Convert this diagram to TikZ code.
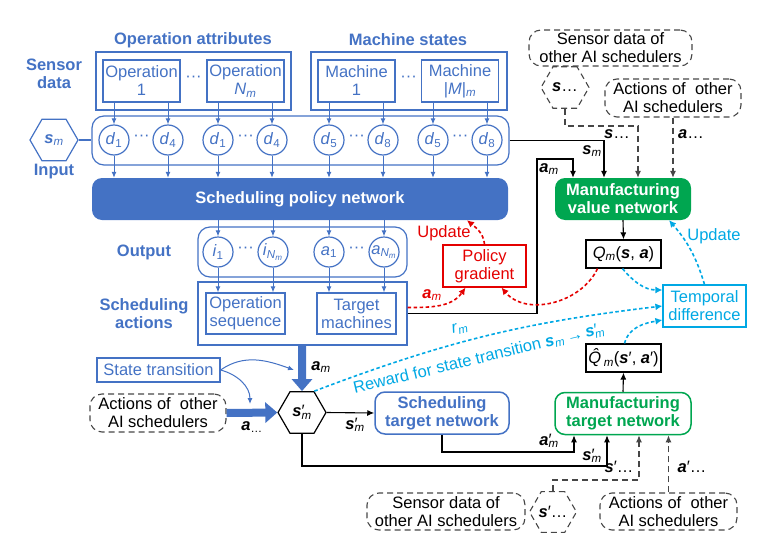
\documentclass[tikz,border=0pt]{standalone}
\usepackage{fontspec}
\setmainfont{Liberation Sans}
\usetikzlibrary{shapes.geometric}
\usetikzlibrary{arrows.meta}
\usetikzlibrary{math}

\definecolor{schedblue}{RGB}{68,114,196}
\definecolor{tdcyan}{RGB}{0,168,228}
\definecolor{pgred}{RGB}{228,0,0}
\definecolor{mfgreen}{RGB}{0,166,80}
\definecolor{dashgray}{RGB}{70,70,70}

\newcommand{\labfont}{\fontsize{16.5}{18}\selectfont}
\newcommand{\bvar}[2]{\textbf{\textit{#1}}\textsubscript{\textit{#2}}}
\newcommand{\bvarp}[2]{\textbf{\textit{#1}}\rlap{′}\textsubscript{\textit{#2}}}
\newcommand{\ivar}[2]{\textit{#1}\textsubscript{#2}}
\newcommand{\Nm}{\textit{N}\textsubscript{\textit{m}}}

\tikzset{
    heading/.style={font=\labfont\bfseries, text=schedblue, align=center, inner sep=0pt},
    framebox/.style={draw=schedblue, line width=1.2pt, inner sep=0pt},
    inbox/.style={framebox, text=schedblue, align=center, font=\labfont,
        minimum width=77pt, minimum height=42pt},
    feature/.style={circle, draw=schedblue, line width=1.2pt, text=schedblue,
        minimum size=30pt, inner sep=0pt, font=\labfont},
    dotsnode/.style={text=schedblue, font=\labfont, inner sep=0pt},
    feed/.style={draw=schedblue, line width=1pt, -{Latex[length=6pt,width=5pt]}},
    othersbox/.style={draw=dashgray, dash pattern=on 6pt off 4pt, line width=1.1pt,
        rounded corners=12pt, align=center, font=\labfont, inner sep=0pt},
    hexa/.style={regular polygon, regular polygon sides=6, minimum size=48pt,
        inner sep=0pt, font=\labfont},
    wire/.style={draw=black, line width=1.1pt, -{Latex[length=7pt,width=6pt]}},
    otherwire/.style={draw=dashgray, dash pattern=on 6pt off 4pt, line width=1.1pt,
        -{Latex[length=7pt,width=6pt]}},
    varlabel/.style={font=\labfont, inner sep=0pt},
    valbox/.style={draw=black, line width=1.2pt, font=\labfont,
        minimum width=75pt, minimum height=28pt, inner sep=0pt},
    netbox/.style={rounded corners=10pt, align=center, font=\labfont\bfseries,
        minimum height=42pt, inner sep=0pt},
    reddash/.style={draw=pgred, line width=1.6pt, dash pattern=on 3.5pt off 2.5pt,
        -{Latex[length=7pt,width=7pt]}},
    cyandash/.style={draw=tdcyan, line width=1.6pt, dash pattern=on 3.5pt off 2.5pt,
        -{Latex[length=7pt,width=7pt]}},
    bigflow/.style={draw=schedblue, line width=8pt, -{Triangle[length=12pt,width=20pt]}},
}

\begin{document}
\begin{tikzpicture}[x=1pt, y=-1pt]

% Picture size
\tikzmath{
    \FeatY = 140;
    \OutY = 252;
}

\useasboundingbox (0,0) rectangle (771,546);

% Side headings
\node [heading] (hattr) at (193,40) {Operation attributes};
\node [heading] (hmach) at (408,40) {Machine states};
\node [heading] (hsensor) at (54,74) {Sensor\\data};
\node [heading] (hinput) at (54,172) {Input};
\node [heading] (houtput) at (144,\OutY) {Output};
\node [heading] (hactions) at (144,314) {Scheduling\\actions};

% Sensor data boxes
\node [framebox, minimum width=195pt, minimum height=58pt] (attrframe) at (193.5,81) {};
\node [framebox, minimum width=196pt, minimum height=58pt] (machframe) at (409,81) {};
\node [inbox] (opone) at (141.5,81) {Operation\\1};
\node [inbox] (opn) at (245.5,81) {Operation\\\Nm};
\node [inbox] (macone) at (356.5,81) {Machine\\1};
\node [inbox] (macm) at (460,81) {Machine\\|\textit{M}|\textsubscript{\textit{m}}};
\node [dotsnode] (dotattr) at (193.5,79) {···};
\node [dotsnode] (dotmach) at (408.5,79) {···};

% Input layer
\node [framebox, rounded corners=12pt, minimum width=417pt, minimum height=49pt] (input) at (300.5,140.5) {};
\node [hexa, draw=schedblue, line width=1.2pt, text=schedblue] (sm) at (54,\FeatY) {\bvar{s}{m}};
\draw [schedblue, line width=1.2pt] (sm.east) -- (input.west |- sm.east);

\foreach \name/\x/\idx/\src in {fa/114/1/opone, fb/168/4/opone, fc/218/1/opn, fd/272/4/opn,
                                fe/329/5/macone, ff/383/8/macone, fg/433/5/macm, fh/487/8/macm} {
    \node [feature] (\name) at (\x,\FeatY) {\ivar{d}{\idx}};
    \draw [feed] (\name |- \src.south) -- (\name.north);
}
\foreach \name/\x in {dfa/141.5, dfb/245.5, dfc/356.5, dfd/460} {
    \node [dotsnode] (\name) at (\x,\FeatY-2) {···};
}

% Policy network
\node [netbox, fill=schedblue, text=white, minimum width=416pt] (policy) at (300,199) {Scheduling policy network};
\foreach \name in {fa,fb,fc,fd,fe,ff,fg,fh} {
    \draw [feed] (\name.south) -- (\name |- policy.north);
}

% Output layer and actions
\node [framebox, rounded corners=12pt, minimum width=209pt, minimum height=50pt] (output) at (302.5,\OutY) {};
\node [framebox, minimum width=209pt, minimum height=63pt] (actions) at (302.5,313.5) {};
\node [inbox, minimum width=79pt, minimum height=41pt] (opseq) at (245.5,313.5) {Operation\\sequence};
\node [inbox, minimum width=79pt, minimum height=41pt] (tarmac) at (356.5,313.5) {Target\\machines};

\foreach \name/\x/\sym/\idx/\dst in {oa/218/i/1/opseq, ob/273/i/{\Nm}/opseq,
                                     oc/329/a/1/tarmac, od/384/a/{\Nm}/tarmac} {
    \node [feature] (\name) at (\x,\OutY) {\ivar{\sym}{\idx}};
    \draw [feed] (\name |- policy.south) -- (\name.north);
    \draw [feed] (\name.south) -- (\name |- \dst.north);
}
\node [dotsnode] (doa) at (245.5,\OutY-2) {···};
\node [dotsnode] (dob) at (356.5,\OutY-2) {···};

% Other schedulers (top)
\node [othersbox, minimum width=163pt, minimum height=36pt] (sdtop) at (610.5,48) {Sensor data of\\other AI schedulers};
\node [hexa, draw=dashgray, dash pattern=on 6pt off 4pt, line width=1.1pt] (shtop) at (565,87.5) {\textbf{\textit{s}}\ldots};
\node [othersbox, minimum width=136pt, minimum height=38pt] (actop) at (673,98) {Actions of~ other\\AI schedulers};

% Manufacturing value network
\node [netbox, fill=mfgreen, text=white, minimum width=136pt] (mvn) at (623,199) {Manufacturing\\value network};
\node [valbox] (qval) at (623.5,254) {\textit{Q}\textsubscript{\textit{m}}(\textbf{\textit{s}}, \textbf{\textit{a}})};
\node [draw=tdcyan, line width=1.2pt, text=tdcyan, align=center, font=\labfont,
    minimum width=83pt, minimum height=42pt, inner sep=0pt] (tdiff) at (704.5,306) {Temporal\\difference};
\node [draw=pgred, line width=1.2pt, text=pgred, align=center, font=\labfont,
    minimum width=83pt, minimum height=42pt, inner sep=0pt] (pgrad) at (484.5,266) {Policy\\gradient};

\coordinate (amturn) at (537,159);
\coordinate (sdturn) at (638,126);

\draw [wire] (input.east) -| ([xshift=-19pt]mvn.north);
\draw [wire] (actions.east) -| (amturn) -| ([xshift=-50pt]mvn.north);
\draw [otherwire] (shtop.south) |- (sdturn) -- ([xshift=15pt]mvn.north);
\draw [otherwire] (actop.south) -- (actop.south |- mvn.north);
\draw [wire] (mvn.south) -- (qval.north);

\node [varlabel] (lsm) at (592,151) {\bvar{s}{m}};
\node [varlabel] (lam) at (549,169) {\bvar{a}{m}};
\node [varlabel] (lso) at (617,134) {\textbf{\textit{s}}\ldots};
\node [varlabel] (lao) at (691,134) {\textbf{\textit{a}}\ldots};

% Updates
\draw [cyandash] (tdiff.north) to [bend right=12] ([xshift=46pt]mvn.south);
\node [varlabel, text=tdcyan] (lupc) at (714,236) {Update};
\draw [cyandash] ([xshift=-1pt]qval.south) to [out=-50, in=180] ([yshift=16pt]tdiff.west);
\draw [reddash] (pgrad.north) to [out=95, in=-40] ([xshift=167pt]policy.south);
\node [varlabel, text=pgred] (lupr) at (444,233) {Update};
\draw [reddash] ([yshift=6pt]actions.east) to [out=0, in=-125] ([xshift=-19pt]pgrad.south);
\node [varlabel, text=pgred] (lamr) at (432,295) {\bvar{a}{m}};
\draw [reddash] ([xshift=-26pt]qval.south) to [out=-115, in=-50] ([xshift=17pt]pgrad.south);

% State transition
\node [framebox, text=schedblue, font=\labfont, minimum width=123pt, minimum height=24pt] (strans) at (158.5,370) {State transition};
\node [othersbox, minimum width=136pt, minimum height=38pt] (acleft) at (158,413) {Actions of~ other\\AI schedulers};
\node [hexa, draw=black, line width=1.2pt] (snext) at (302,412.5) {\bvarp{s}{m}};

\draw [bigflow] (actions.south -| snext) -- (snext.north);
\draw [bigflow] (acleft.east) -- (snext.west);
\node [varlabel] (lamb) at (321,367) {\bvar{a}{m}};
\node [varlabel] (laob) at (252,427) {\textbf{\textit{a}}\textsubscript{\ldots}};

\coordinate (stup) at (294,370);
\coordinate (stdown) at (250,404);
\draw [feed] (strans.east) to [out=35, in=160] (stup);
\draw [feed] (strans.east) to [out=-15, in=90] (stdown);

% Target networks
\node [netbox, draw=schedblue, line width=1.5pt, text=schedblue, minimum width=134pt] (stn) at (442,413) {Scheduling\\target network};
\node [netbox, draw=mfgreen, line width=1.5pt, text=mfgreen, minimum width=136pt] (mtn) at (623,413.5) {Manufacturing\\target network};
\node [valbox] (qhat) at (623.5,358) {\textit{\^{Q}}\textsubscript{\textit{m}}(\textbf{\textit{s}}′, \textbf{\textit{a}}′)};

\draw [wire] (snext.east) -- (stn.west);
\node [varlabel] (lsn) at (355,425) {\bvarp{s}{m}};
\draw [wire] (mtn.north) -- (qhat.south);
\draw [cyandash] ([xshift=1pt]qhat.north) to [out=75, in=190] ([yshift=-14pt]tdiff.west);

% Reward
\draw [cyandash] (snext.60) to [bend left=7] (tdiff.west);
\node [varlabel, text=tdcyan, rotate=14] (lrm) at (460,328) {\textit{r}\textsubscript{\textit{m}}};
\node [varlabel, text=tdcyan, rotate=13.5] (lrew) at (479,359) {Reward for state transition \bvar{s}{m}\,→\,\bvarp{s}{m}};

% Other schedulers (bottom)
\node [othersbox, minimum width=158pt, minimum height=37pt] (sdbot) at (446,511.5) {Sensor data of\\other AI schedulers};
\node [hexa, draw=dashgray, dash pattern=on 6pt off 4pt, line width=1.1pt, minimum size=46pt] (shbot) at (553,512) {\textbf{\textit{s}}′\ldots};
\node [othersbox, minimum width=137pt, minimum height=37pt] (acbot) at (668.5,511.5) {Actions of~ other\\AI schedulers};

\coordinate (tgA) at (574,452);
\coordinate (tgB) at (607,466);
\coordinate (tgC) at (639,480);

\draw [wire] (stn.south) |- (tgA) -- ([xshift=-49pt]mtn.south);
\draw [wire] (snext.south) |- (tgB) -- ([xshift=-16pt]mtn.south);
\draw [otherwire] (shbot.north) |- (tgC) -- ([xshift=16pt]mtn.south);
\draw [otherwire] (acbot.north) -- (acbot.north |- mtn.south);

\node [varlabel] (lamt) at (549,441) {\bvarp{a}{m}};
\node [varlabel] (lsmt) at (592,456) {\bvarp{s}{m}};
\node [varlabel] (lsot) at (619,467) {\textbf{\textit{s}}′\ldots};
\node [varlabel] (laot) at (692,467) {\textbf{\textit{a}}′\ldots};

\end{tikzpicture}
\end{document}
